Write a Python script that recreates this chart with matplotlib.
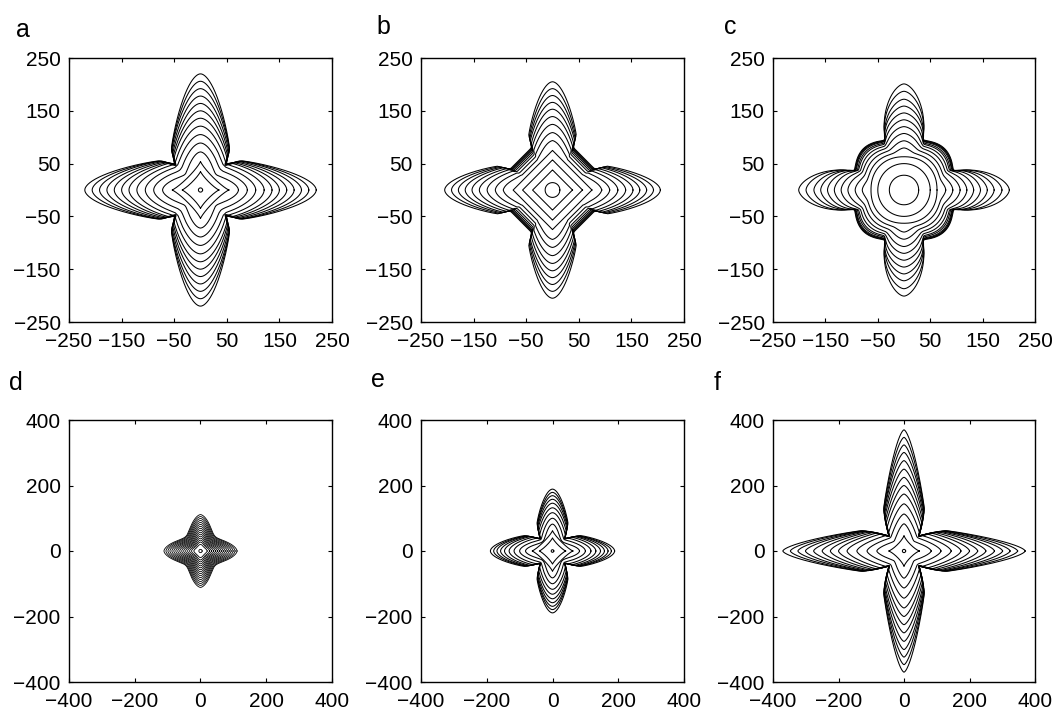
import numpy as np
import matplotlib
matplotlib.use('Agg')
import matplotlib.pyplot as plt

plt.rcParams['font.family'] = ['Liberation Sans', 'DejaVu Sans']

# ---- panel a (growth fronts, inner -> outer) ----
a_dot = 4
a_tip = [35, 54, 72, 89, 105, 121, 136, 150, 164, 178, 192, 206, 220]
a_width = [0, 0, 30, 38, 44, 48, 51, 52, 53, 54, 55, 55, 55]
a_waist = [0, 0, 20, 32, 42, 50, 57, 62, 67, 71, 74, 77, 80]
a_core = [35, 54, 58, 62, 64, 66, 67, 68, 69, 70, 70, 71, 71]

# ---- panel b ----
b_dot = 14
b_tip = [38, 57, 75, 92, 108, 124, 139, 153, 166, 179, 192, 205]
b_width = [0, 0, 0, 26, 31, 35, 38, 40, 42, 43, 44, 45]
b_waist = [0, 0, 0, 55, 65, 74, 81, 87, 92, 96, 100, 104]
b_core = [38, 57, 75, 86, 95, 102, 107, 111, 114, 116, 118, 120]

# ---- panel c ----
c_dot = 28
c_tip = [50, 65, 79, 93, 107, 120, 133, 146, 159, 172, 187, 201]
c_width = [0, 0, 24, 28, 31, 33, 35, 36, 37, 37, 38, 38]
c_waist = [0, 0, 40, 55, 68, 78, 87, 95, 102, 108, 114, 120]
c_core = [50, 63, 70, 76, 81, 85, 88, 90, 92, 93, 94, 95]
c_round = [2.0, 2.2, 2.4, 2.6, 2.8, 3.0, 3.2, 3.3, 3.4, 3.5, 3.5, 3.5]

# ---- panel d ----
d_dot = 5
d_tip = [20, 27, 33, 39, 45, 51, 57, 63, 69, 75, 81, 87, 93, 99, 105, 111]
d_width = [11, 14, 16, 18.5, 20.5, 22.5, 24.5, 26.5, 28.5, 30.5, 32.5, 34.5, 36.5, 38.5, 40.5, 42]
d_waist = [0] * 16
d_core = [0] * 16

# ---- panel e ----
e_dot = 4
e_tip = [40, 62, 82, 100, 117, 132, 146, 158, 169, 179, 189]
e_width = [0, 0, 27, 34, 39, 42, 44, 45, 46, 46, 47]
e_waist = [0, 0, 20, 35, 48, 58, 66, 72, 77, 81, 85]
e_core = [40, 62, 65, 68, 70, 71, 72, 72, 73, 73, 73]

# ---- panel f ----
f_dot = 5
f_tip = [47, 83, 113, 144, 174, 200, 225, 250, 276, 301, 324, 347, 370]
f_width = [0, 30, 40, 47, 52, 55, 57, 59, 60, 61, 61, 62, 62]
f_waist = [0, 25, 40, 55, 70, 82, 92, 101, 109, 116, 122, 126, 130]
f_core = [47, 60, 64, 66, 68, 69, 70, 70, 71, 71, 72, 72, 72]

ticks_small = [-250, -150, -50, 50, 150, 250]
ticks_big = [-400, -200, 0, 200, 400]

theta = np.linspace(0, 2 * np.pi, 3601)


def lobe_radius(delta, tip, width, waist, root_k, p, q):
    # radial extent (seen from the origin) of one arm lying along delta = 0
    x = np.linspace(1e-3, tip, 900)
    h = np.empty_like(x)
    inner = x < waist
    if waist > 0:
        h[inner] = width * (x[inner] / waist) ** root_k
    u = (x[~inner] - waist) / (tip - waist)
    h[~inner] = width * np.clip(1 - u ** p, 0, None) ** q
    ang = np.arctan2(h, x)
    rad = np.hypot(h, x)
    order = np.argsort(ang)
    ang = np.append(ang[order], np.pi / 2)
    rad = np.append(rad[order], rad[order][-1])
    return np.interp(np.abs(delta), ang, rad, right=0.0)


def front(tip, width, waist, core, n, root_k, p, q, m):
    parts = []
    if core > 0:
        c, s = np.abs(np.cos(theta)), np.abs(np.sin(theta))
        parts.append(core / (c ** n + s ** n) ** (1 / n))
    if width > 0:
        for a in [0, np.pi / 2, np.pi, 1.5 * np.pi]:
            delta = (theta - a + np.pi) % (2 * np.pi) - np.pi
            parts.append(lobe_radius(delta, tip, width, waist, root_k, p, q))
    r = np.sum([pp ** m for pp in parts], axis=0) ** (1 / m)
    return r * np.cos(theta), r * np.sin(theta)


fig = plt.figure(figsize=(10.54, 7.21), dpi=100)

W, H = 1054, 721
boxes = {'a': (69, 58, 263, 264), 'b': (421, 58, 263, 264), 'c': (773, 58, 262, 264),
         'd': (69, 420, 263, 262), 'e': (421, 420, 263, 262), 'f': (773, 420, 262, 262)}
letters = {'a': (16, 37), 'b': (376, 34), 'c': (724, 34),
           'd': (9, 390), 'e': (371, 387), 'f': (714, 390)}

panels = [
    ('a', a_tip, a_width, a_waist, a_core, 0.85, a_dot, 250, ticks_small, 0.35, 1.2, 0.55, 16),
    ('b', b_tip, b_width, b_waist, b_core, 1.0, b_dot, 250, ticks_small, 0.6, 1.2, 0.55, 16),
    ('c', c_tip, c_width, c_waist, c_core, c_round, c_dot, 250, ticks_small, 0.35, 2.0, 0.6, 16),
    ('d', d_tip, d_width, d_waist, d_core, 1.0, d_dot, 400, ticks_big, 0.35, 2.0, 0.6, 5),
    ('e', e_tip, e_width, e_waist, e_core, 0.85, e_dot, 400, ticks_big, 0.3, 1.2, 0.55, 16),
    ('f', f_tip, f_width, f_waist, f_core, 0.8, f_dot, 400, ticks_big, 0.33, 1.1, 0.65, 16),
]

for name, tips, widths, waists, cores, rnd, dot, lim, ticks, k, p, q, m in panels:
    x0, y0, w, h = boxes[name]
    ax = fig.add_axes([x0 / W, 1 - (y0 + h) / H, w / W, h / H])
    rnd = np.broadcast_to(rnd, (len(tips),))
    lw = 0.6 if name == 'd' else 0.75
    for i in range(len(tips)):
        xs, ys = front(tips[i], widths[i], waists[i], cores[i], rnd[i], k, p, q, m)
        ax.plot(xs, ys, color='k', lw=lw)
    ax.plot(dot * np.cos(theta), dot * np.sin(theta), color='k', lw=lw)
    ax.set_xlim(-lim, lim)
    ax.set_ylim(-lim, lim)
    ax.set_xticks(ticks)
    ax.set_yticks(ticks)
    ax.tick_params(direction='in', top=True, right=True, length=3, width=0.8,
                   labelsize=15)
    ax.tick_params(axis='x', pad=7)
    ax.tick_params(axis='y', pad=6)
    for sp in ax.spines.values():
        sp.set_linewidth(1.0)
    lx, ly = letters[name]
    fig.text(lx / W, 1 - ly / H, name, fontsize=18, va='baseline')

fig.savefig('out.png', dpi=100)
